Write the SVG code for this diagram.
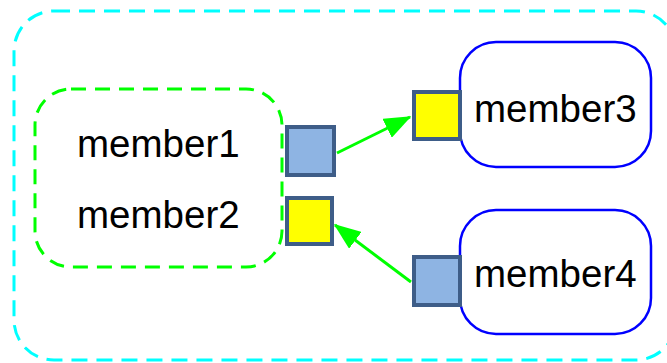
<svg xmlns="http://www.w3.org/2000/svg" width="667" height="363" viewBox="0 0 667 363">
<defs>
<style>
.outer{fill:none;stroke:#00ffff;stroke-width:3;stroke-dasharray:16 9}
.group{fill:none;stroke:#00ff00;stroke-width:3;stroke-dasharray:15 9}
.node{fill:#ffffff;stroke:#0000ff;stroke-width:2.5}
.pb{fill:#8eb4e3;stroke:#3e5d88;stroke-width:4}
.py{fill:#ffff00;stroke:#3e5d88;stroke-width:4}
.lbl{font-family:"Liberation Sans",Arial,sans-serif;font-size:38.5px;fill:#000000}
.edge{stroke:#00ff00;stroke-width:3;fill:none}
</style>
<marker id="ah" markerWidth="9" markerHeight="7" refX="8.5" refY="3.5" orient="auto" markerUnits="strokeWidth" viewBox="0 0 9 7">
<path d="M0,0 L9,3.5 L0,7 Z" fill="#00ff00"/>
</marker>
</defs>
<rect width="667" height="363" fill="#ffffff"/>
<g id="outer">
<rect class="outer" x="14" y="11" width="662" height="349" rx="40" ry="40"/>
</g>
<g id="group1">
<rect class="group" x="35" y="89" width="247" height="178" rx="36" ry="36"/>
<text class="lbl" x="77" y="157">member1</text>
<text class="lbl" x="77" y="228">member2</text>
</g>
<g id="member3">
<rect class="node" x="460" y="42" width="191" height="125" rx="36" ry="36"/>
<text class="lbl" x="474" y="122">member3</text>
</g>
<g id="member4">
<rect class="node" x="460" y="210" width="191" height="124" rx="36" ry="36"/>
<text class="lbl" x="474" y="287">member4</text>
</g>
<g id="connectors">
<line class="edge" x1="337" y1="153" x2="410" y2="117" marker-end="url(#ah)"/>
<line class="edge" x1="411" y1="282" x2="335" y2="225" marker-end="url(#ah)"/>
</g>
<g id="port1"><rect class="pb" x="287" y="127" width="47" height="48"/></g>
<g id="port2"><rect class="py" x="287" y="198" width="45" height="46"/></g>
<g id="port3"><rect class="py" x="414" y="92" width="46" height="47"/></g>
<g id="port4"><rect class="pb" x="414" y="257" width="46" height="48"/></g>
</svg>
